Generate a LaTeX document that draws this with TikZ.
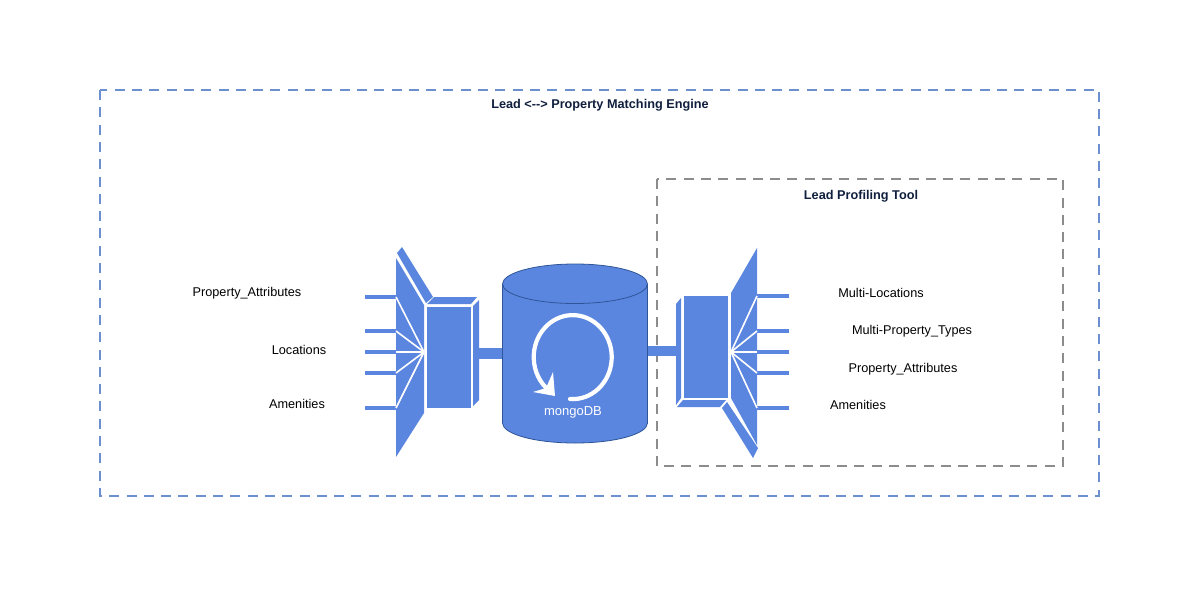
\documentclass[tikz,border=0pt]{standalone}
\usepackage{fontspec}
\setmainfont{Liberation Sans}
\definecolor{mblue}{HTML}{5A86E0}
\definecolor{cdark}{HTML}{2F5597}
\definecolor{navy}{HTML}{0F1F3D}
\definecolor{gdash}{HTML}{8C8C8C}
\definecolor{bdash}{HTML}{6C8FD0}
\tikzset{
  part/.style={fill=mblue,draw=none},
  feed/.style={draw=mblue,line width=3.2pt},
  ray/.style={draw=white,line width=1.6pt},
  lbl/.style={font=\fontsize{12.7}{15}\selectfont,text=black,inner sep=0pt},
  ttl/.style={font=\fontsize{12.7}{15}\selectfont\bfseries,text=navy,inner sep=0pt},
}
\begin{document}
\begin{tikzpicture}[x=1pt,y=-1pt]
\useasboundingbox[fill=white] (0,0) rectangle (1200,595);
% frames
\draw[bdash,line width=1.5pt,dash pattern=on 10pt off 7.3pt] (100,90) rectangle (1099,496);
\draw[gdash,line width=1.8pt,dash pattern=on 10pt off 7.3pt] (657,179) rectangle (1063,466);
\node[ttl] (t1) at (600,105.5) {Lead <{-}{-}> Property Matching Engine};
\node[ttl] (t2) at (861,196) {Lead Profiling Tool};
% left splitter
\foreach \y in {297,331,352,373,408} \draw[feed] (365,\y) -- (397,\y);
\fill[part] (396,258) -- (424,305) -- (424,413) -- (396,457) -- cycle;
\foreach \y in {297,331,352,373,408} \draw[ray] (396,\y) -- (424,352);
\fill[part] (397,253) -- (402,247) -- (433,297) -- (426,303) -- cycle;
\fill[part] (427,307) rectangle (471,408);
\fill[part] (427,304) -- (434,297) -- (477,297) -- (471,304) -- cycle;
\fill[part] (473,306) -- (479,300) -- (479,400) -- (473,406) -- cycle;
\fill[part] (479,348) rectangle (503,359);
% right splitter
\foreach \y in {296,331,352,373,408} \draw[feed] (756,\y) -- (789,\y);
\fill[part] (757,248) -- (731,293) -- (731,398) -- (757,445) -- cycle;
\foreach \y in {296,331,352,373,408} \draw[ray] (757,\y) -- (731,352);
\fill[part] (727,402) -- (758,448) -- (753,458) -- (722,408) -- cycle;
\fill[part] (684,296) rectangle (728,398);
\fill[part] (676,304) -- (681,298) -- (681,398) -- (676,405) -- cycle;
\fill[part] (677,407) -- (683,400) -- (726,400) -- (720,407) -- cycle;
\fill[part] (647,346) rectangle (676,356);
% cylinder
\draw[cdark,fill=mblue,line width=0.8pt] (502.5,284) -- (502.5,423) arc[start angle=180,end angle=0,x radius=72.5,y radius=20] -- (647.5,284) arc[start angle=0,end angle=-180,x radius=72.5,y radius=20] -- cycle;
\draw[cdark,line width=0.8pt] (502.5,284) arc[start angle=180,end angle=0,x radius=72.5,y radius=19.5];
% mongodb logo
\draw[white,line width=4.2pt,line cap=round] (570,399) arc[start angle=94,end angle=-226,x radius=39,y radius=42];
\fill[white] (553,372) -- (555,396) -- (533,392) -- (546,388) -- cycle;
\node[font=\fontsize{13}{15}\selectfont,text=white,inner sep=0pt] (m) at (573,412) {mongoDB};
% labels
\node[lbl] (a) at (247,293.5) {Property\_Attributes};
\node[lbl] (b) at (299,349.5) {Locations};
\node[lbl] (c) at (297,404) {Amenities};
\node[lbl] (d) at (881,293) {Multi-Locations};
\node[lbl] (e) at (912,331.5) {Multi-Property\_Types};
\node[lbl] (f) at (903,369.5) {Property\_Attributes};
\node[lbl] (g) at (858,405) {Amenities};
\end{tikzpicture}
\end{document}
